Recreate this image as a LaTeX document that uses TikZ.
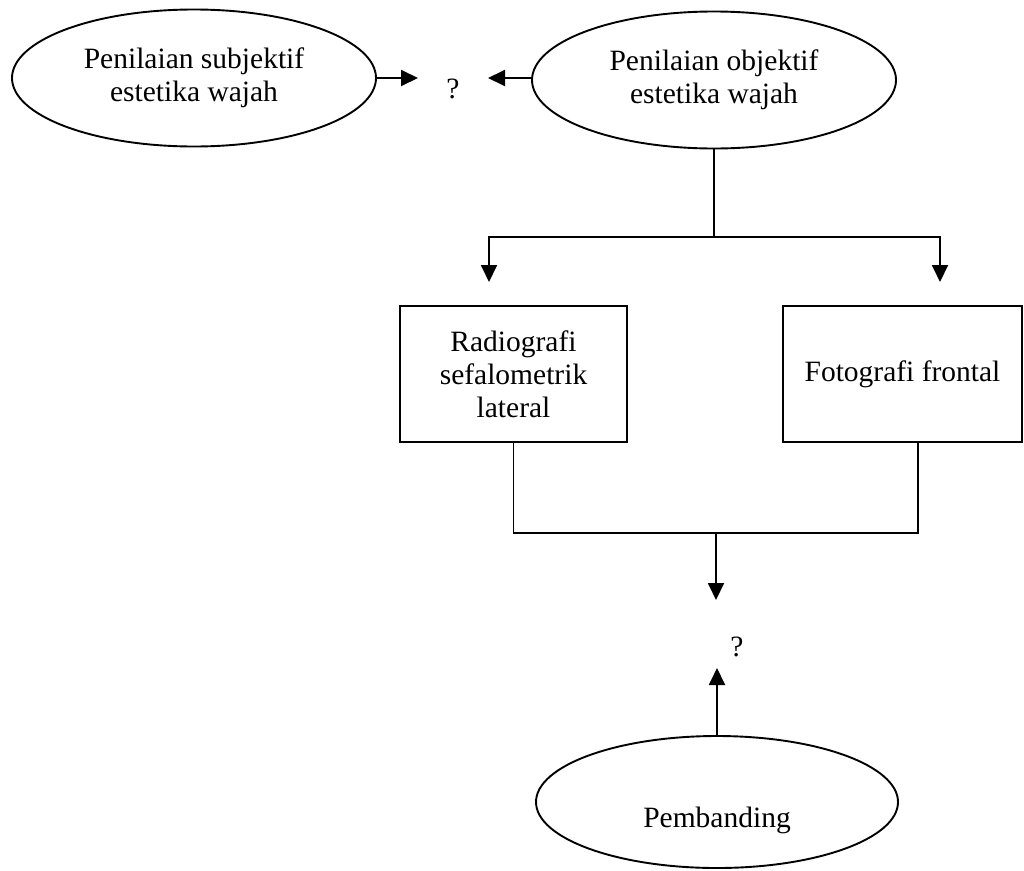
\documentclass[tikz,border=0pt]{standalone}
\usepackage{fontspec}
\setmainfont{Liberation Serif}
\usetikzlibrary{shapes.geometric,arrows.meta}

\begin{document}
\begin{tikzpicture}[x=1pt, y=-1pt, line width=1.9pt, >={Triangle[length=17pt,width=16pt]}]
		\tikzstyle{every node}=[inner sep=0pt, align=center, font=\fontsize{29.5}{33}\selectfont]
		\tikzstyle{oval}=[draw, ellipse, minimum width=364pt, minimum height=137pt]
		\tikzstyle{kotak}=[draw, rectangle, minimum width=227pt, minimum height=136pt]
		\useasboundingbox (0,0) rectangle (1024,870);
		\node[oval] (S) at (194, 78) {Penilaian subjektif\\estetika wajah};
		\node[oval] (O) at (714, 80) {Penilaian objektif\\estetika wajah};
		\node (Q1) at (453, 89) {?};
		\node[kotak] (R) at (513.5, 374) {Radiografi\\sefalometrik\\lateral};
		\node[kotak, minimum width=239pt] (F) at (902.5, 374) {Fotografi frontal};
		\node (Q2) at (737, 647) {?};
		\node[oval, minimum width=362pt, minimum height=132pt, text height=56pt, text depth=6pt] (P) at (717, 802) {Pembanding};
		\coordinate (aS) at (418, 78);
		\coordinate (aO) at (488, 78);
		\coordinate (j1) at (714, 237);
		\coordinate (aR) at (489, 282);
		\coordinate (aF) at (940, 282);
		\coordinate (j2) at (716, 533);
		\coordinate (aD) at (716, 600);
		\coordinate (aU) at (717, 668);
		\draw [->] (S.east) -- (aS);
		\draw [->] (O.west |- aO) -- (aO);
		\draw (O.south) -- (j1);
		\draw [->] (j1) -| (aR);
		\draw [->] (j1) -| (aF);
		\draw (R.south) |- (j2);
		\draw ([xshift=15.5pt]F.south) |- (j2);
		\draw [->] (j2) -- (aD);
		\draw [->] (P.north) -- (aU);
\end{tikzpicture}
\end{document}
